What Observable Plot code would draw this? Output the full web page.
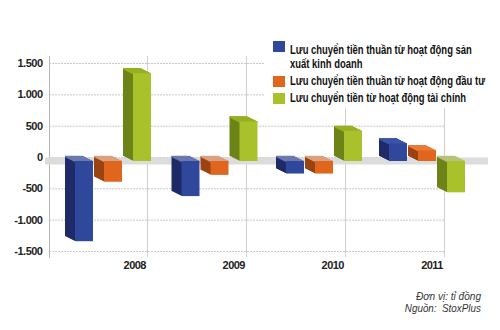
<!DOCTYPE html>
<html><head><meta charset="utf-8">
<script src="https://cdn.jsdelivr.net/npm/d3@7"></script>
<script src="https://cdn.jsdelivr.net/npm/@observablehq/plot@0.6"></script>
<style>
body{margin:0;background:#fff;}
#wrap{position:relative;width:500px;height:330px;overflow:hidden;font-family:"Liberation Sans",Arial,sans-serif;}
#legend{position:absolute;left:265px;top:30px;width:235px;height:78px;background:#fff;}
.line{position:absolute;left:25px;white-space:nowrap;font-size:13.5px;font-weight:bold;line-height:14.5px;color:#111;transform-origin:0 50%;}
.sw{position:absolute;left:8px;width:12px;height:11px;}
.foot{position:absolute;right:19px;white-space:nowrap;font-style:italic;font-size:11.5px;line-height:12px;color:#333;transform-origin:100% 50%;}
</style></head><body>
<div id="wrap"><div id="chart"></div><div id="legend"></div></div>
<script>
const years = ["2008", "2009", "2010", "2011"];
const seriesNames = [
  "Lưu chuyển tiền thuần từ hoạt động sản xuất kinh doanh",
  "Lưu chuyển tiền thuần từ hoạt động đầu tư",
  "Lưu chuyển tiền từ hoạt động tài chính"
];
const operating = [-1280, -560, -200, 280];
const investing = [-330, -220, -200, 170];
const financing = [1400, 630, 480, -500];
const yTicks = [-1500, -1000, -500, 0, 500, 1000, 1500];
const unitNote = "Đơn vị: tỉ đồng";
const sourceNote = "Nguồn:\u00a0\u00a0StoxPlus";

const frontColors = ["#30489b", "#e0661e", "#a9c22b"];
const sideColors = ["#1e2b68", "#9b4211", "#6d8318"];
const topPosColors = ["#3d55a8", "#e97c3a", "#98b122"];
const topNegColors = ["#6d79ae", "#d8a283", "#b5c37e"];

const fmt = d3.formatLocale({decimal: ",", thousands: ".", grouping: [3], currency: ["", ""], minus: "-"}).format(",");

const seriesValues = [operating, investing, financing];
const rows = seriesValues.map(vals => years.map((year, j) => ({year, value: vals[j]})));

// perspective: each year's group drifts right of its band centre
const yearShift = [14.5, 22, 27.5, 31.5];
const barStep = 29;
const depth = 10;
const inset = 40.5;

const marks = [
  Plot.gridY(yTicks, {stroke: "#c8c8c8", strokeOpacity: 1, strokeDasharray: "2,1"}),
  Plot.ruleX(years, {x: d => d, dx: 48.5, stroke: "#cfcfcf"}),
  Plot.frame({anchor: "left", stroke: "#b5b5b5"}),
  Plot.ruleY([0], {stroke: "#dcdcdc", strokeWidth: 7, dy: 3.5, insetLeft: -4, insetRight: -43}),
  Plot.axisY(yTicks, {tickSize: 0, tickPadding: 7, tickFormat: fmt, fontSize: 11, fontWeight: "bold", fill: "#222", label: null}),
  Plot.axisX({tickSize: 0, tickPadding: 4, textAnchor: "end", dx: 47, fontSize: 11, fontWeight: "bold", fill: "#222", label: null})
];

years.forEach((year, j) => {
  rows.forEach((allRows, i) => {
    const data = allRows.filter(d => d.year === year);
    const dx0 = yearShift[j] + (i - 1) * barStep;
    for (let k = depth; k >= 1; k--) {
      marks.push(Plot.barY(data, {x: "year", y: "value", insetLeft: inset, insetRight: inset, fill: sideColors[i], dx: dx0 - k, dy: 4 - 0.5 * k}));
    }
    const pos = data.filter(d => d.value >= 0);
    const neg = data.filter(d => d.value < 0);
    for (let k = depth; k >= 0; k--) {
      marks.push(Plot.tickY(pos, {x: "year", y: "value", insetLeft: inset, insetRight: inset, stroke: topPosColors[i], strokeWidth: 1.5, dx: dx0 - k, dy: 4 - 0.5 * k}));
      marks.push(Plot.tickY(neg, {x: "year", y: () => 0, insetLeft: inset, insetRight: inset, stroke: topNegColors[i], strokeWidth: 1.5, dx: dx0 - k, dy: 4 - 0.5 * k}));
    }
    marks.push(Plot.barY(data, {x: "year", y: "value", insetLeft: inset, insetRight: inset, fill: frontColors[i], dx: dx0, dy: 4}));
  });
});

const chart = Plot.plot({
  width: 500,
  height: 330,
  marginLeft: 49,
  marginRight: 55,
  marginTop: 56,
  marginBottom: 73,
  style: {fontFamily: '"Liberation Sans",Arial,sans-serif', background: "transparent", letterSpacing: "-0.5px"},
  x: {domain: years, padding: 0, label: null},
  y: {domain: [-1596, 1612], label: null},
  marks
});
document.getElementById("chart").appendChild(chart);

// text measuring for condensed look
const ctx = document.createElement("canvas").getContext("2d");
function measure(s, font) { ctx.font = font; return ctx.measureText(s).width; }

const legendFont = 'bold 13.5px "Liberation Sans"';
const legendScale = 195 / measure(seriesNames[1], legendFont);
const maxLine = 199;
function wrap(name) {
  const words = name.split(" ");
  const lines = [];
  let cur = "";
  words.forEach(w => {
    const test = cur ? cur + " " + w : w;
    if (cur && measure(test, legendFont) * legendScale > maxLine) { lines.push(cur); cur = w; }
    else cur = test;
  });
  if (cur) lines.push(cur);
  return lines;
}
const legend = document.getElementById("legend");
const swTops = [11, 46, 63];
let lineCenter = 20;
seriesNames.forEach((name, i) => {
  const sw = document.createElement("div");
  sw.className = "sw";
  sw.style.top = swTops[i] + "px";
  sw.style.background = frontColors[i];
  legend.appendChild(sw);
  const lines = wrap(name);
  lines.forEach((ln, li) => {
    const t = document.createElement("div");
    t.className = "line";
    t.style.top = (lineCenter - 7.25) + "px";
    t.style.transform = "scaleX(" + legendScale + ")";
    t.textContent = ln;
    legend.appendChild(t);
    lineCenter += li < lines.length - 1 ? 14.5 : 17;
  });
});

const wrapEl = document.getElementById("wrap");
const footFont = 'italic 11.5px "Liberation Sans"';
[[unitNote, 65, 296], [sourceNote, 76, 308]].forEach(([s, w, cy]) => {
  const d = document.createElement("div");
  d.className = "foot";
  d.textContent = s;
  d.style.top = (cy - 6) + "px";
  d.style.transform = "scaleX(" + (w / measure(s, footFont)) + ")";
  wrapEl.appendChild(d);
});
</script>
</body></html>
